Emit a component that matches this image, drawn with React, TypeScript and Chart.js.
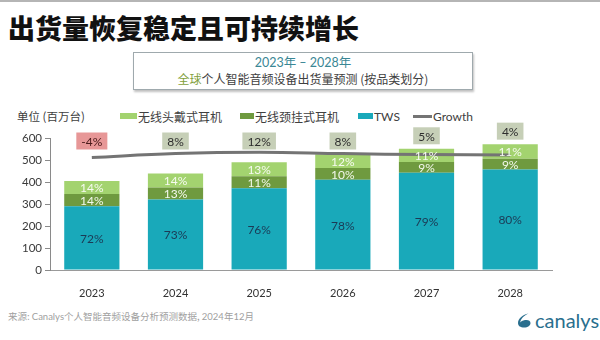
import React, { useEffect, useRef } from "react";
import { Chart, registerables } from "chart.js";

Chart.register(...registerables);

// ---- data ----
const years = ["2023", "2024", "2025", "2026", "2027", "2028"];
const seriesNames = ["无线头戴式耳机", "无线颈挂式耳机", "TWS", "Growth"];
const twsValues = [290, 320, 372, 410, 442, 457];
const neckbandValues = [55, 55, 54, 54, 49, 49];
const headphoneValues = [60, 64, 64, 62, 60, 66];
const twsShare = ["72%", "73%", "76%", "78%", "79%", "80%"];
const neckbandShare = ["14%", "13%", "11%", "10%", "9%", "9%"];
const headphoneShare = ["14%", "14%", "13%", "12%", "11%", "11%"];
const growthValues = [-4, 8, 12, 8, 5, 4];
const growthLabels = ["-4%", "8%", "12%", "8%", "5%", "4%"];
const yMin = 0;
const yMax = 600;
const yStep = 100;

const COLORS = {
  tws: "#19a9ba",
  neck: "#6f9a3f",
  head: "#a3d36f",
  growth: "#747474",
};

const LATIN = "Lato, 'Noto Sans CJK SC', sans-serif";
const CJK = "'Noto Sans CJK SC', Lato, sans-serif";

const labelPlugin = {
  id: "segmentLabels",
  afterDatasetsDraw(chart: any) {
    const ctx = chart.ctx;
    ctx.save();
    ctx.textAlign = "center";
    ctx.textBaseline = "middle";
    ctx.font = "12px " + LATIN;
    const groups: [number, string[], string][] = [
      [0, twsShare, "#1c3a55"],
      [1, neckbandShare, "#f3f8ec"],
      [2, headphoneShare, "#f6fbf0"],
    ];
    groups.forEach(([idx, labels, color]) => {
      const meta = chart.getDatasetMeta(idx);
      meta.data.forEach((bar: any, i: number) => {
        const p = bar.getProps(["x", "y", "base"], true);
        ctx.fillStyle = color;
        ctx.fillText(labels[i], p.x, (p.y + p.base) / 2 + 1);
      });
    });
    // growth boxes
    const topMeta = chart.getDatasetMeta(2);
    const top = chart.chartArea.top;
    topMeta.data.forEach((bar: any, i: number) => {
      const p = bar.getProps(["x", "y"], true);
      const cy = Math.min(top + 3, p.y - 13);
      const text = growthLabels[i];
      ctx.font = "12px " + LATIN;
      const w = ctx.measureText(text).width + 10;
      const h = 17;
      ctx.fillStyle = growthValues[i] < 0 ? "#e79797" : "#c6cfb7";
      ctx.fillRect(p.x - w / 2, cy - h / 2, w, h);
      ctx.fillStyle = growthValues[i] < 0 ? "#4a1a1a" : "#2e2e2e";
      ctx.fillText(text, p.x, cy + 1);
    });
    ctx.restore();
  },
};

function ChartCanvas() {
  const ref = useRef<HTMLCanvasElement>(null);
  useEffect(() => {
    if (!ref.current) return;
    const chart = new Chart(ref.current, {
      type: "bar",
      data: {
        labels: years,
        datasets: [
          {
            type: "bar",
            label: seriesNames[2],
            data: twsValues,
            backgroundColor: COLORS.tws,
            stack: "s",
            order: 1,
            categoryPercentage: 1,
            barPercentage: 0.66,
          },
          {
            type: "bar",
            label: seriesNames[1],
            data: neckbandValues,
            backgroundColor: COLORS.neck,
            stack: "s",
            order: 1,
            categoryPercentage: 1,
            barPercentage: 0.66,
          },
          {
            type: "bar",
            label: seriesNames[0],
            data: headphoneValues,
            backgroundColor: COLORS.head,
            stack: "s",
            order: 1,
            categoryPercentage: 1,
            barPercentage: 0.66,
          },
          {
            type: "line",
            label: seriesNames[3],
            data: growthValues,
            borderColor: COLORS.growth,
            borderWidth: 3,
            pointRadius: 0,
            tension: 0.4,
            yAxisID: "y2",
            order: 0,
          } as any,
        ],
      },
      options: {
        animation: false,
        responsive: false,
        maintainAspectRatio: false,
        layout: { padding: { top: 38, right: 48, left: 0, bottom: 0 } },
        plugins: { legend: { display: false }, tooltip: { enabled: false } },
        scales: {
          x: {
            stacked: true,
            grid: { display: false },
            border: { display: true, color: "#9a9a9a", width: 1 },
            ticks: { color: "#333", font: { family: LATIN, size: 11 }, padding: 9 },
            afterFit: (s: any) => {
              s.height = 30;
            },
          },
          y: {
            stacked: true,
            min: yMin,
            max: yMax,
            ticks: {
              stepSize: yStep,
              color: "#3a3a3a",
              font: { family: LATIN, size: 11.5 },
              padding: 3,
            },
            grid: { drawOnChartArea: false, drawTicks: true, tickLength: 5, color: "#8a8a8a" },
            border: { display: true, color: "#8a8a8a", width: 1 },
            afterFit: (s: any) => {
              s.width = 50;
            },
          },
          y2: {
            display: false,
            min: -350,
            max: 56,
          },
        },
      },
      plugins: [labelPlugin],
    });
    return () => chart.destroy();
  }, []);
  return (
    <canvas
      ref={ref}
      width={600}
      height={200}
      style={{ position: "absolute", left: 0, top: 100, width: 600, height: 200 }}
    />
  );
}

function Legend() {
  const items = [
    { left: 120, kind: "box", w: 17, color: COLORS.head, name: seriesNames[0] },
    { left: 240, kind: "box", w: 14, color: COLORS.neck, name: seriesNames[1] },
    { left: 358, kind: "box", w: 15, color: COLORS.tws, name: seriesNames[2] },
    { left: 413, kind: "line", w: 19, color: COLORS.growth, name: seriesNames[3] },
  ];
  return (
    <>
      {items.map((it) => (
        <div
          key={it.name}
          style={{
            position: "absolute",
            left: it.left,
            top: 108,
            height: 16,
            display: "flex",
            alignItems: "center",
            fontFamily: CJK,
            fontSize: 12,
            color: "#404040",
            whiteSpace: "nowrap",
          }}
        >
          <span
            style={{
              display: "inline-block",
              width: it.w,
              height: it.kind === "box" ? 6 : 3,
              background: it.color,
              marginRight: 1,
            }}
          />
          <span style={{ fontFamily: it.name.match(/^[A-Za-z]/) ? LATIN : CJK }}>{it.name}</span>
        </div>
      ))}
    </>
  );
}

export default function App() {
  return (
    <div
      style={{
        position: "fixed",
        left: 0,
        top: 0,
        width: 600,
        height: 340,
        background: "#ffffff",
        overflow: "hidden",
      }}
    >
      <div style={{ position: "absolute", left: 0, top: 0, width: 600, height: 2, background: "#b5b5b5" }} />
      <div
        style={{
          position: "absolute",
          left: 8,
          top: 11,
          fontFamily: CJK,
          fontWeight: 900,
          fontSize: 27,
          lineHeight: "34px",
          color: "#111",
          letterSpacing: 0,
          whiteSpace: "nowrap",
        }}
      >
        出货量恢复稳定且可持续增长
      </div>
      <div
        style={{
          position: "absolute",
          left: 133,
          top: 52,
          width: 338,
          height: 36,
          border: "1px solid #9fa9ad",
          boxShadow: "1px 2px 2px rgba(0,0,0,0.25)",
          textAlign: "center",
          fontFamily: CJK,
          background: "#fff",
        }}
      >
        <div style={{ fontFamily: LATIN, fontSize: 12.5, color: "#3a8795", lineHeight: "16px", marginTop: 2 }}>
          2023年 – 2028年
        </div>
        <div style={{ fontSize: 12, color: "#404040", lineHeight: "16px" }}>
          <span style={{ color: "#7f9f3c" }}>全球</span>个人智能音频设备出货量预测 (按品类划分)
        </div>
      </div>
      <div
        style={{
          position: "absolute",
          left: 17,
          top: 108,
          fontFamily: CJK,
          fontSize: 11.5,
          color: "#404040",
          lineHeight: "16px",
          whiteSpace: "nowrap",
        }}
      >
        单位 (百万台)
      </div>
      <Legend />
      <ChartCanvas />
      <div
        style={{
          position: "absolute",
          left: 8,
          top: 308,
          fontFamily: CJK,
          fontSize: 9.5,
          color: "#9f9f9f",
          lineHeight: "16px",
          whiteSpace: "nowrap",
        }}
      >
        来源: <span style={{ fontFamily: LATIN }}>Canalys</span>个人智能音频设备分析预测数据,{" "}
        <span style={{ fontFamily: LATIN }}>2024</span>年<span style={{ fontFamily: LATIN }}>12</span>月
      </div>
      <div
        style={{
          position: "absolute",
          left: 516,
          top: 308,
          height: 24,
          display: "flex",
          alignItems: "center",
          color: "#2a6f8e",
          fontFamily: LATIN,
          fontSize: 20,
          whiteSpace: "nowrap",
        }}
      >
        <svg width="16" height="16" viewBox="0 0 16 16" style={{ marginRight: 3 }}>
          <path d="M12.5 1.5 C7 2.5 2 6.5 2 11 C2 14 4.5 15.5 8 15.5 C12 15.5 14.5 13.5 14.5 11 C14.5 8.5 12 7.5 9 8 C6.5 8.4 5 9.5 4.2 10.5 C4.8 6.5 8 3.5 12.5 1.5 Z" fill="#2a6f8e" />
        </svg>
        canalys
      </div>
    </div>
  );
}
